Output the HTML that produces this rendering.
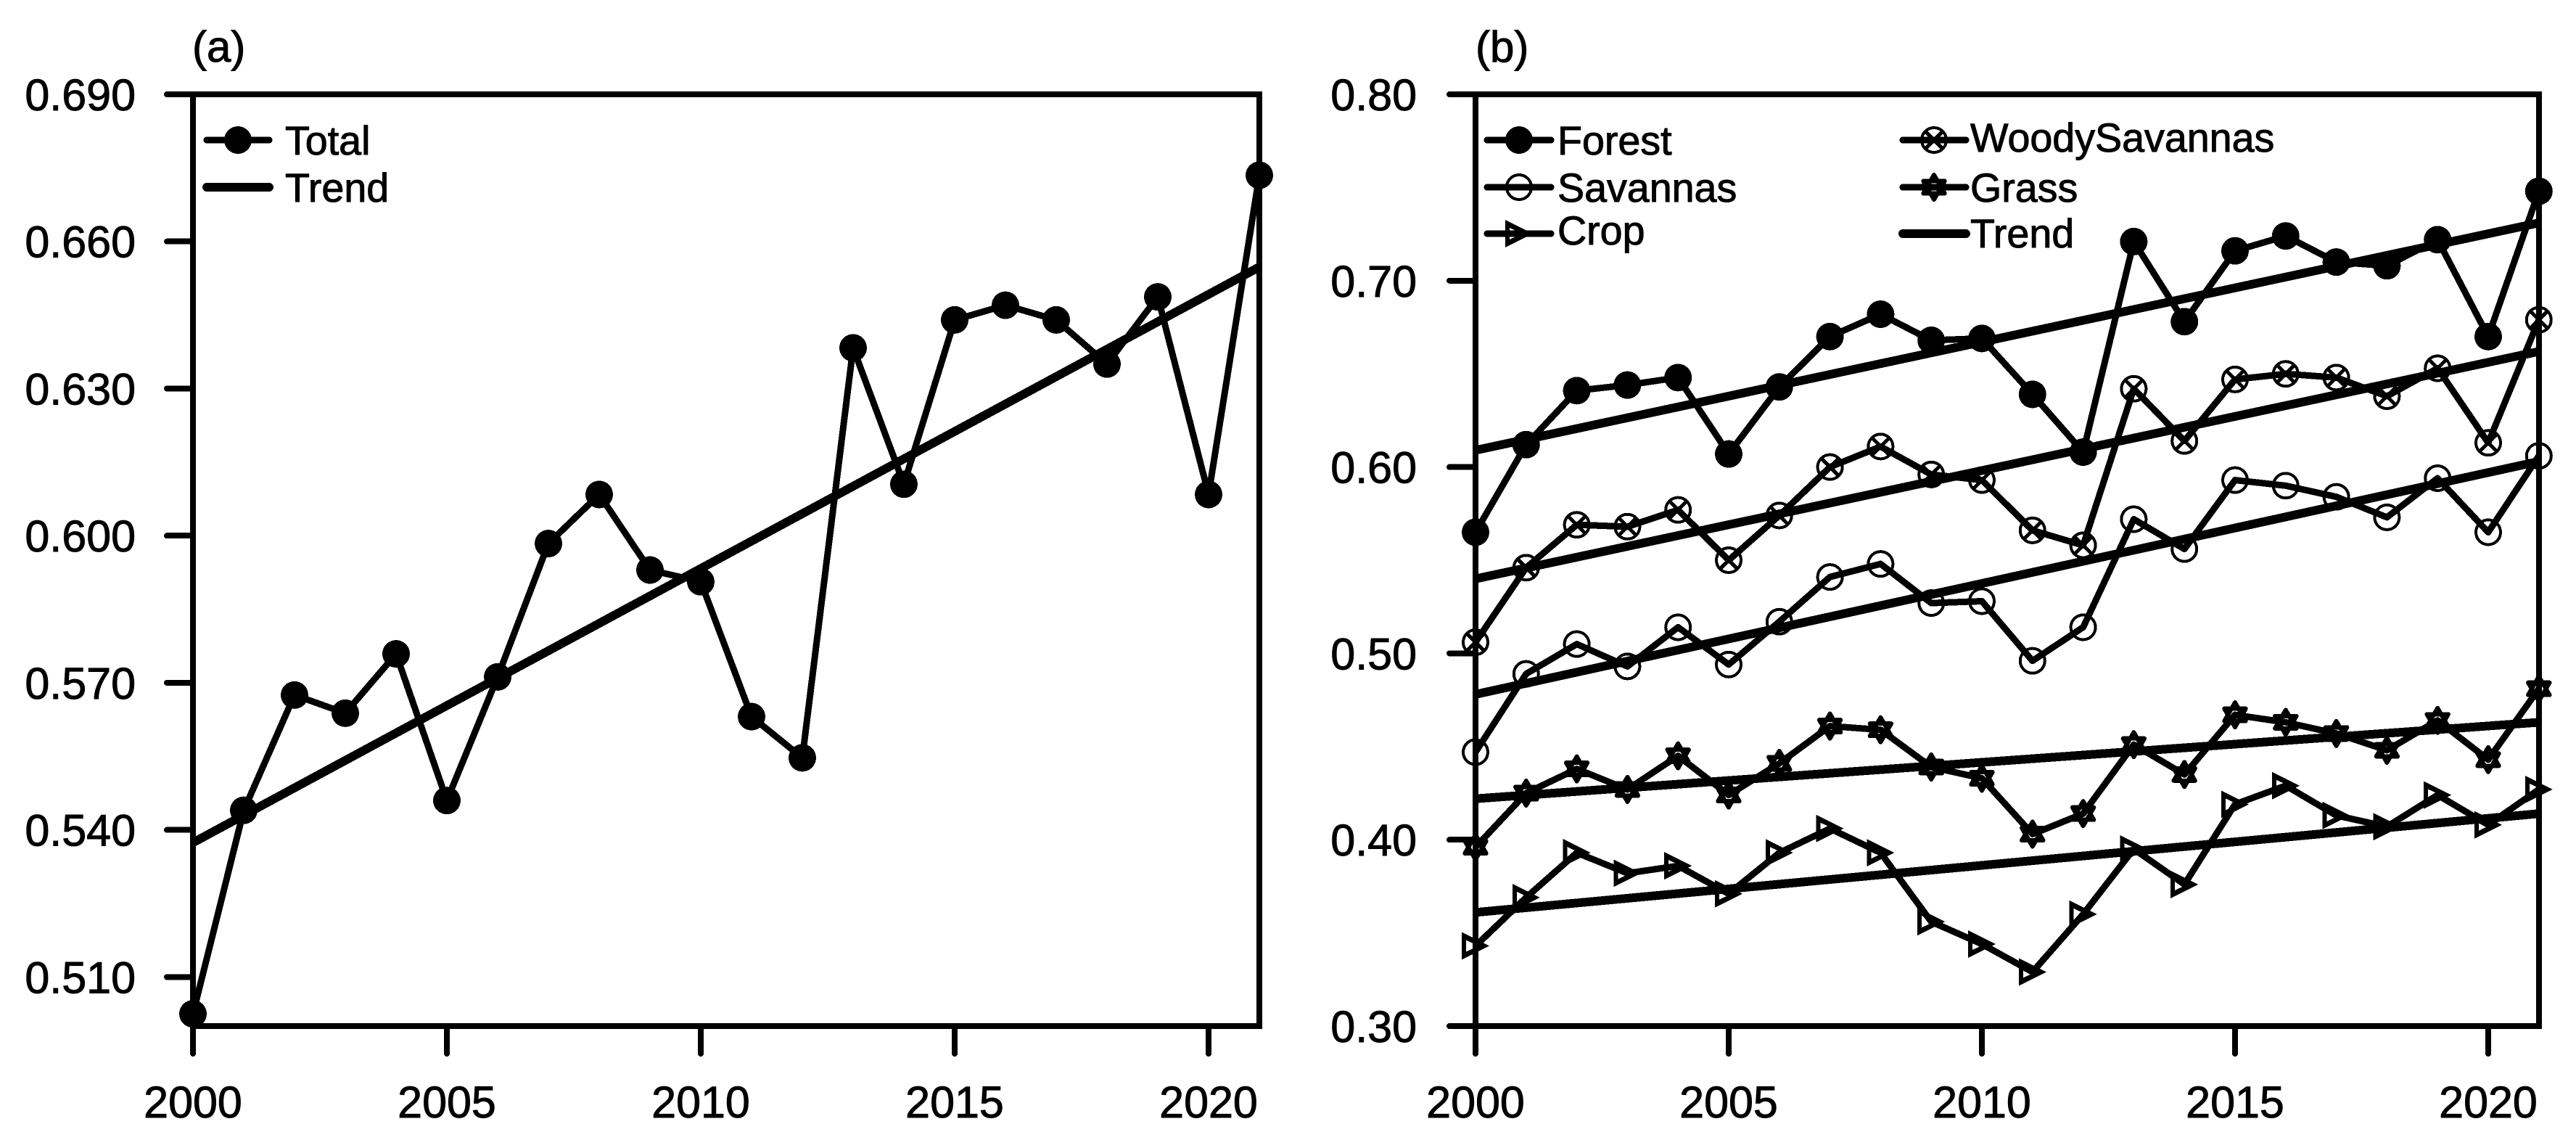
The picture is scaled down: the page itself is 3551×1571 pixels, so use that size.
<!DOCTYPE html>
<html lang="en">
<head>
<meta charset="utf-8">
<title>Time series of total and land-cover values, 2000–2021</title>
<style>
html,body{margin:0;padding:0;background:#fff;width:3551px;height:1571px;overflow:hidden}
svg{display:block}
text{font-family:"Liberation Sans",Arial,sans-serif;fill:#000;stroke:#000;stroke-width:1}
</style>
</head>
<body>
<svg id="chart" xmlns="http://www.w3.org/2000/svg" width="3551" height="1571" viewBox="0 0 3551 1571" shape-rendering="crispEdges">
<rect width="3551" height="1571" fill="#fff"/>
<g id="panel-a"></g>
<g id="panel-b"></g>
</svg>
<script>
const years = [2000,2001,2002,2003,2004,2005,2006,2007,2008,2009,2010,2011,2012,2013,2014,2015,2016,2017,2018,2019,2020,2021];
const xTickLabels = [2000,2005,2010,2015,2020];
const yTicksA = [0.51,0.54,0.57,0.60,0.63,0.66,0.69];
const yTicksB = [0.30,0.40,0.50,0.60,0.70,0.80];
const totalValues = [0.5025,0.544,0.5675,0.5638,0.5759,0.546,0.5712,0.5984,0.6084,0.593,0.5906,0.5631,0.5547,0.6383,0.6105,0.644,0.647,0.644,0.635,0.6487,0.6084,0.6735];
const totalTrend = [0.5374,0.6548];
const forestValues = [0.565,0.612,0.641,0.644,0.648,0.607,0.643,0.670,0.682,0.668,0.669,0.639,0.608,0.721,0.678,0.716,0.724,0.710,0.708,0.722,0.670,0.748];
const woodyValues = [0.506,0.546,0.569,0.568,0.577,0.550,0.574,0.600,0.611,0.596,0.593,0.566,0.558,0.642,0.614,0.647,0.650,0.648,0.638,0.653,0.613,0.679];
const savannaValues = [0.447,0.489,0.505,0.493,0.514,0.494,0.517,0.541,0.548,0.527,0.528,0.496,0.514,0.572,0.556,0.593,0.590,0.584,0.573,0.594,0.565,0.606];
const grassValues = [0.396,0.425,0.438,0.427,0.445,0.424,0.441,0.461,0.459,0.439,0.433,0.403,0.414,0.451,0.435,0.467,0.463,0.457,0.448,0.464,0.443,0.481];
const cropValues = [0.343,0.369,0.393,0.382,0.386,0.371,0.393,0.406,0.393,0.356,0.344,0.329,0.360,0.395,0.376,0.419,0.429,0.413,0.407,0.424,0.408,0.427];
const forestTrend = [0.609,0.731];
const woodyTrend = [0.540,0.662];
const savannaTrend = [0.478,0.603];
const grassTrend = [0.422,0.463];
const cropTrend = [0.361,0.414];

const NS = 'http://www.w3.org/2000/svg';
const plotTop = 130, plotBottom = 1414;

function make(parent, tag, attrs) {
  const el = document.createElementNS(NS, tag);
  for (const k in attrs) el.setAttribute(k, attrs[k]);
  parent.appendChild(el);
  return el;
}
function scaleX(left, step) { return y => left + (y - years[0]) * step; }
function scaleY(lo, hi) { return v => plotBottom - (v - lo) / (hi - lo) * (plotBottom - plotTop); }

function trianglePts(cx, cy, r, angle) {
  const p = [];
  for (let i = 0; i < 3; i++) {
    const a = angle + i * Math.PI * 2 / 3;
    p.push((cx + r * Math.cos(a)).toFixed(1) + ',' + (cy + r * Math.sin(a)).toFixed(1));
  }
  return p.join(' ');
}
function drawMarker(g, kind, cx, cy) {
  const base = {fill:'none', stroke:'#000', 'stroke-width':4};
  if (kind === 'filled') {
    make(g, 'circle', {cx:cx, cy:cy, r:19, fill:'#000'});
  } else if (kind === 'circle') {
    make(g, 'circle', Object.assign({cx:cx, cy:cy, r:17}, base));
  } else if (kind === 'crossed') {
    make(g, 'circle', Object.assign({cx:cx, cy:cy, r:17}, base));
    make(g, 'path', Object.assign({d:'M'+(cx-12)+' '+(cy-12)+'L'+(cx+12)+' '+(cy+12)+'M'+(cx+12)+' '+(cy-12)+'L'+(cx-12)+' '+(cy+12)}, base, {'stroke-width':5}));
  } else if (kind === 'star') {
    make(g, 'polygon', Object.assign({points:trianglePts(cx, cy, 17, -Math.PI/2), 'stroke-linejoin':'round'}, base, {'stroke-width':6}));
    make(g, 'polygon', Object.assign({points:trianglePts(cx, cy, 17, Math.PI/2), 'stroke-linejoin':'round'}, base, {'stroke-width':6}));
  } else if (kind === 'triangle') {
    const outer = 'M'+(cx-19)+' '+(cy-19)+'L'+(cx+19)+' '+cy+'L'+(cx-19)+' '+(cy+19)+'Z';
    const inner = 'M'+(cx-13)+' '+(cy-8)+'L'+(cx+4)+' '+cy+'L'+(cx-13)+' '+(cy+8)+'Z';
    make(g, 'path', {d:outer+inner, fill:'#000', 'fill-rule':'evenodd'});
  }
}

function drawAxes(panel, left, step, yTicks, lo, hi, labelEnd, decimals) {
  const sx = scaleX(left, step), sy = scaleY(lo, hi);
  const right = sx(years[years.length - 1]);
  const axes = make(panel, 'g', {});
  
  
  const frame = make(axes, 'rect', {x:left, y:plotTop, width:right-left, height:plotBottom-plotTop, fill:'none', stroke:'#000', 'stroke-width':8});
  
  
  yTicks.forEach(v => {
    const t = make(axes, 'line', {x1:left-36, x2:left, y1:sy(v), y2:sy(v), stroke:'#000', 'stroke-width':8, 'stroke-linecap':'round'});
    
    
    const l = make(axes, 'text', {x:labelEnd, y:sy(v)+22, 'text-anchor':'end', 'font-size':61});
    l.textContent = v.toFixed(decimals);
    
    
  });
  xTickLabels.forEach(y => {
    const t = make(axes, 'line', {x1:sx(y), x2:sx(y), y1:plotBottom, y2:plotBottom+38, stroke:'#000', 'stroke-width':8, 'stroke-linecap':'round'});
    
    
    const l = make(axes, 'text', {x:sx(y), y:1540, 'text-anchor':'middle', 'font-size':61});
    l.textContent = y;
    
    
  });
}

function drawSeries(panel, name, values, kind, sx, sy) {
  const g = make(panel, 'g', {});
  
  
  const pts = values.map((v, i) => sx(years[i]).toFixed(1) + ',' + sy(v).toFixed(1)).join(' ');
  const line = make(g, 'polyline', {points:pts, fill:'none', stroke:'#000', 'stroke-width':9, 'stroke-linejoin':'round'});
  
  
  values.forEach((v, i) => {
    const m = make(g, 'g', {});
    
    
    drawMarker(m, kind, sx(years[i]), sy(v));
  });
}
function drawTrend(panel, name, ends, sx, sy) {
  const x0 = sx(years[0]), x1 = sx(years[years.length - 1]);
  const l = make(panel, 'line', {x1:x0, y1:sy(ends[0]), x2:x1, y2:sy(ends[1]), stroke:'#000', 'stroke-width':12});
  
  
}
function legendEntry(panel, name, kind, x1, x2, cx, lineY, textX, baseY) {
  const g = make(panel, 'g', {});
  
  
  make(g, 'line', {x1:x1, x2:x2, y1:lineY, y2:lineY, stroke:'#000', 'stroke-width':kind ? 9 : 12, 'stroke-linecap':'round'});
  if (kind) drawMarker(g, kind, cx, lineY);
  const t = make(g, 'text', {x:textX, y:baseY, 'font-size':55.6});
  t.textContent = name;
}
function panelTitle(panel, x, label) {
  const t = make(panel, 'text', {x:x, y:85, 'font-size':60});
  t.textContent = label;
  
  
}

/* Panel (a) */
const panelA = document.getElementById('panel-a');
const axA = scaleX(266, 70), ayA = scaleY(0.50, 0.69);
panelTitle(panelA, 265, '(a)');
drawAxes(panelA, 266, 70, yTicksA, 0.50, 0.69, 187, 3);
drawSeries(panelA, 'total', totalValues, 'filled', axA, ayA);
drawTrend(panelA, 'total', totalTrend, axA, ayA);
legendEntry(panelA, 'Total', 'filled', 285, 371, 328, 193, 393, 213);
legendEntry(panelA, 'Trend', null, 285, 371, 328, 258, 393, 278);

/* Panel (b) */
const panelB = document.getElementById('panel-b');
const axB = scaleX(2034, 69.8), ayB = scaleY(0.30, 0.80);
panelTitle(panelB, 2034, '(b)');
drawAxes(panelB, 2034, 69.8, yTicksB, 0.30, 0.80, 1953, 2);
drawSeries(panelB, 'forest', forestValues, 'filled', axB, ayB);
drawSeries(panelB, 'woody-savannas', woodyValues, 'crossed', axB, ayB);
drawSeries(panelB, 'savannas', savannaValues, 'circle', axB, ayB);
drawSeries(panelB, 'grass', grassValues, 'star', axB, ayB);
drawSeries(panelB, 'crop', cropValues, 'triangle', axB, ayB);
drawTrend(panelB, 'forest', forestTrend, axB, ayB);
drawTrend(panelB, 'woody-savannas', woodyTrend, axB, ayB);
drawTrend(panelB, 'savannas', savannaTrend, axB, ayB);
drawTrend(panelB, 'grass', grassTrend, axB, ayB);
drawTrend(panelB, 'crop', cropTrend, axB, ayB);
legendEntry(panelB, 'Forest', 'filled', 2050, 2138, 2094, 193, 2147, 213);
legendEntry(panelB, 'Savannas', 'circle', 2050, 2138, 2094, 258, 2147, 278);
legendEntry(panelB, 'Crop', 'triangle', 2050, 2138, 2094, 322, 2147, 337);
legendEntry(panelB, 'WoodySavannas', 'crossed', 2623, 2710, 2666, 193, 2716, 209);
legendEntry(panelB, 'Grass', 'star', 2623, 2710, 2666, 258, 2716, 278);
legendEntry(panelB, 'Trend', null, 2623, 2710, 2666, 322, 2716, 341);
</script>
</body>
</html>
